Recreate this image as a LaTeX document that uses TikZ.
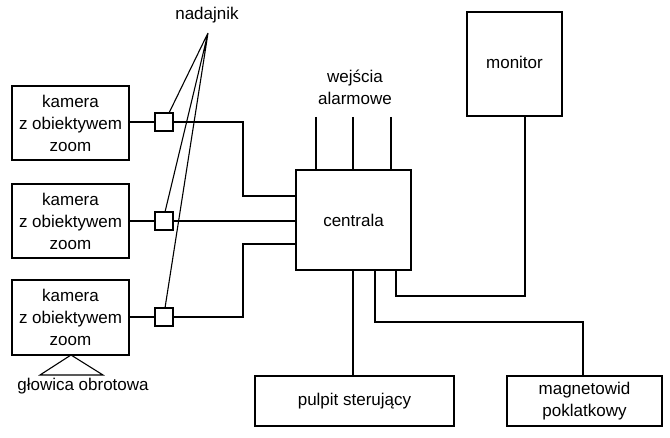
\documentclass[tikz,border=0pt]{standalone}
\usepackage{fontspec}
\setmainfont{Liberation Sans}
\begin{document}
\begin{tikzpicture}[x=1pt,y=-1pt,line width=1.4pt,
 box/.style={draw,rectangle,inner sep=0pt,align=center,font=\fontsize{17}{22}\selectfont},
 sq/.style={draw,rectangle,minimum size=18pt,inner sep=0pt},
 lbl/.style={align=center,font=\fontsize{17}{22}\selectfont}]
\useasboundingbox (0,0) rectangle (670,438);
\node[box,minimum width=117pt,minimum height=74pt] (k1) at (70.5,123) {kamera\\z obiektywem\\zoom};
\node[box,minimum width=117pt,minimum height=74pt] (k2) at (70.5,221) {kamera\\z obiektywem\\zoom};
\node[box,minimum width=117pt,minimum height=75pt] (k3) at (70.5,317.5) {kamera\\z obiektywem\\zoom};
\node[sq] (s1) at (164,122) {};
\node[sq] (s2) at (164,221) {};
\node[sq] (s3) at (164,317) {};
\node[box,minimum width=115pt,minimum height=100pt] (c) at (353.5,220) {centrala};
\node[box,minimum width=95pt,minimum height=104pt] (m) at (514.5,64) {};
\node[lbl] (mt) at (514.5,62) {monitor};
\node[box,minimum width=199pt,minimum height=50pt] (p) at (354.5,401) {pulpit sterujący};
\node[box,minimum width=155pt,minimum height=50pt] (g) at (584.5,401) {magnetowid\\poklatkowy};
\node[lbl] (n) at (207,15) {nadajnik};
\node[lbl] (w) at (355,87) {wejścia\\alarmowe};
\node[lbl] (h) at (83,386) {głowica obrotowa};
\coordinate (ap) at (208,33);
\draw[line width=1.1pt] (ap) -- (169,113) (ap) -- (165,212) (ap) -- (165,308);
\draw (k1.east|-s1) -- (s1) (s1) -- (243,122) |- (c.west|-0,196);
\draw (k2.east|-s2) -- (s2) (s2) -- (c.west|-s2);
\draw (k3.east|-s3) -- (s3) (s3) -- (243,317) |- (c.west|-0,244);
\coordinate (w1) at (316,117); \coordinate (w2) at (353,117); \coordinate (w3) at (391,117);
\draw (w1) -- (w1|-c.north) (w2) -- (w2|-c.north) (w3) -- (w3|-c.north);
\draw (m.south-|525,0) -- (525,296) -| (c.south-|396,0);
\draw (c.south-|353,0) -- (p.north-|353,0);
\draw (c.south-|375,0) |- (583,322) -- (g.north-|583,0);
\draw[line width=1.1pt] (71,355) -- (40,375) -- (103,375) -- cycle;
\end{tikzpicture}
\end{document}
